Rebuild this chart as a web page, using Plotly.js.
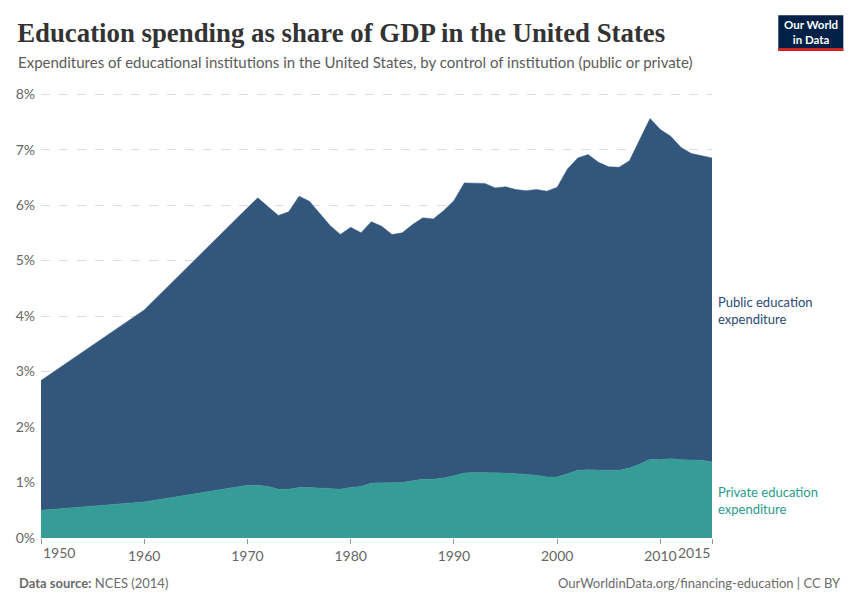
<!DOCTYPE html>
<html>
<head>
<meta charset="utf-8">
<script src="https://cdn.plot.ly/plotly-3.0.1.min.js"></script>
<style>
html,body{margin:0;padding:0;background:#fff;}
#chart{width:860px;height:607px;}
</style>
</head>
<body>
<div id="chart"></div>
<script>
const years = [1950,1960,1970,1971,1972,1973,1974,1975,1976,1977,1978,1979,1980,1981,1982,1983,1984,1985,1986,1987,1988,1989,1990,1991,1992,1993,1994,1995,1996,1997,1998,1999,2000,2001,2002,2003,2004,2005,2006,2007,2008,2009,2010,2011,2012,2013,2014,2015];
const privateSpending = [0.50,0.65,0.95,0.95,0.93,0.88,0.88,0.91,0.91,0.90,0.88,0.88,0.91,0.93,0.99,0.99,0.99,1.00,1.03,1.06,1.06,1.08,1.12,1.17,1.18,1.18,1.17,1.17,1.16,1.15,1.13,1.10,1.10,1.16,1.22,1.23,1.22,1.22,1.22,1.26,1.33,1.42,1.41,1.43,1.41,1.40,1.40,1.37];
const publicSpending = [2.34,3.46,5.00,5.18,5.04,4.93,5.00,5.25,5.16,4.94,4.75,4.59,4.69,4.57,4.71,4.63,4.48,4.50,4.62,4.71,4.69,4.82,4.96,5.23,5.21,5.21,5.14,5.16,5.12,5.11,5.15,5.15,5.22,5.49,5.63,5.68,5.55,5.47,5.46,5.54,5.85,6.14,5.95,5.81,5.63,5.53,5.49,5.48];
const xTickVals = [1950,1960,1970,1980,1990,2000,2010,2015];
const xTickText = ["1950","1960","1970","1980","1990","2000","2010","2015"];
const yTickVals = [0,1,2,3,4,5,6,7,8];
const yTickText = ["0%","1%","2%","3%","4%","5%","6%","7%","8%"];

const publicColor = "#33567c";
const privateColor = "#359c96";

const traces = [
  {x: years, y: privateSpending, name: "Private education expenditure", type: "scatter", mode: "lines",
   stackgroup: "one", line: {color: privateColor, width: 0.5}, fillcolor: privateColor},
  {x: years, y: publicSpending, name: "Public education expenditure", type: "scatter", mode: "lines",
   stackgroup: "one", line: {color: publicColor, width: 0.5}, fillcolor: publicColor}
];

const gray = "#666666";
const annotations = [
  {xref: "paper", yref: "paper", x: -0.037, y: 1.07, xanchor: "left", yanchor: "middle", showarrow: false,
   text: "Expenditures of educational institutions in the United States, by control of institution (public or private)",
   font: {family: "Lato", size: 15, color: "#5b5b5b"}},
  {xref: "paper", yref: "paper", x: 1.0055, y: 0.512, xanchor: "left", yanchor: "middle", showarrow: false, align: "left",
   text: "Public education<br>expenditure", font: {family: "Lato", size: 13, color: "#2c4a73"}},
  {xref: "paper", yref: "paper", x: 1.0055, y: 0.085, xanchor: "left", yanchor: "middle", showarrow: false, align: "left",
   text: "Private education<br>expenditure", font: {family: "Lato", size: 13, color: "#2a9a8e"}},
  {xref: "x", yref: "paper", x: xTickVals[0], y: -0.01, xanchor: "left", yanchor: "top", showarrow: false,
   text: xTickText[0], font: {family: "Lato", size: 14, color: gray}},
  {xref: "x", yref: "paper", x: xTickVals[xTickVals.length-1], y: -0.01, xanchor: "right", yanchor: "top", showarrow: false,
   text: xTickText[xTickText.length-1], font: {family: "Lato", size: 14, color: gray}},
  {xref: "paper", yref: "paper", x: -0.036, y: -0.101, xanchor: "left", yanchor: "middle", showarrow: false,
   text: "<b>Data source:</b> NCES (2014)", font: {family: "Lato", size: 13, color: "#6b6b6b"}},
  {xref: "paper", yref: "paper", x: 1.1957, y: -0.101, xanchor: "right", yanchor: "middle", showarrow: false,
   text: "OurWorldinData.org/financing-education | CC BY", font: {family: "Lato", size: 13, color: "#6b6b6b"}},
  {xref: "paper", yref: "paper", x: 1.1473, y: 1.138, xanchor: "center", yanchor: "middle", showarrow: false,
   text: "<b>Our World<br>in Data</b>", font: {family: "Lato", size: 11.5, color: "#ffffff"}}
];

const midTickText = xTickText.map((t, i) => (i === 0 || i === xTickText.length - 1) ? "" : t);

const layout = {
  width: 860, height: 607,
  margin: {l: 40.7, r: 148.3, t: 93, b: 69, pad: 0},
  paper_bgcolor: "#ffffff", plot_bgcolor: "#ffffff",
  showlegend: false,
  title: {text: "Education spending as share of GDP in the United States", x: 0.02, xanchor: "left", y: 0.947, yanchor: "middle",
          font: {family: "Liberation Serif", size: 26.8, color: "#333333", weight: 600}},
  xaxis: {range: [1950, 2015], tickvals: xTickVals, ticktext: midTickText, showgrid: false, zeroline: false,
          ticks: "outside", ticklen: 5, tickcolor: "#999999", showline: false,
          tickfont: {family: "Lato", size: 14, color: gray}, fixedrange: true},
  yaxis: {range: [0, 8.02], tickvals: yTickVals, ticktext: yTickText, showgrid: true, gridcolor: "#dddddd",
          griddash: "dash", gridwidth: 1, zeroline: false, showline: false, ticks: "", ticklabelstandoff: 5,
          tickfont: {family: "Lato", size: 14, color: gray}, fixedrange: true},
  annotations: annotations,
  shapes: [
    {type: "rect", xref: "paper", yref: "paper", x0: 1.0988, x1: 1.1957, y0: 1.0944, y1: 1.175,
     fillcolor: "#002147", line: {width: 0}},
    {type: "rect", xref: "paper", yref: "paper", x0: 1.0988, x1: 1.1957, y0: 1.0944, y1: 1.101,
     fillcolor: "#ce261e", line: {width: 0}}
  ]
};

Plotly.newPlot("chart", traces, layout, {displayModeBar: false, staticPlot: true});
</script>
</body>
</html>
